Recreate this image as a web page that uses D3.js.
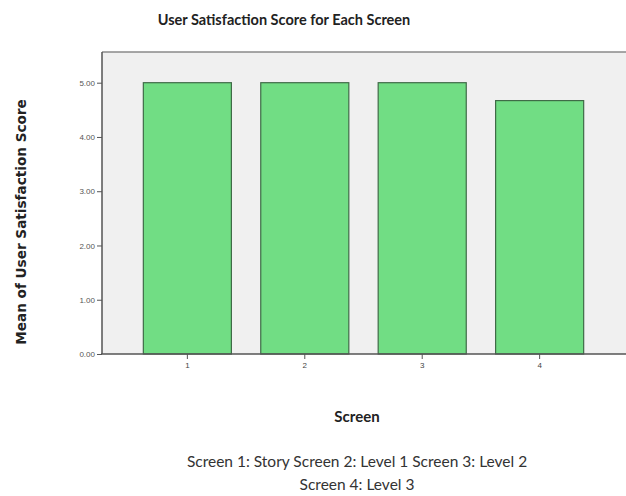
<!DOCTYPE html>
<html>
<head>
<meta charset="utf-8">
<script src="https://cdn.jsdelivr.net/npm/d3@7"></script>
<style>
  body { margin: 0; background: #fff; }
  svg { display: block; }
</style>
</head>
<body>
<div id="chart"></div>
<script>
// Data
const screens = ["1", "2", "3", "4"];
const meanScores = [5.00, 5.00, 5.00, 4.67];
const yTicks = [0, 1, 2, 3, 4, 5];
const captionLines = ["Screen 1: Story Screen 2: Level 1 Screen 3: Level 2", "Screen 4: Level 3"];

const width = 626, height = 496;
const plot = {left: 102, right: 625, top: 52, bottom: 354};

const svg = d3.select("#chart")
              .append("svg")
              .attr("width", width)
              .attr("height", height);

// Scales
const x = d3.scaleBand()
            .domain(screens)
            .range([plot.left, plot.right])
            .paddingInner(0.25)
            .paddingOuter(0.352);
const y = d3.scaleLinear()
            .domain([0, 5])
            .range([plot.bottom, plot.bottom - 271.3]);

// Plot background
svg.append("rect")
   .attr("x", plot.left)
   .attr("y", plot.top)
   .attr("width", width - plot.left)
   .attr("height", plot.bottom - plot.top)
   .attr("fill", "#f0f0f0");

// top frame line
svg.append("line")
   .attr("x1", plot.left).attr("x2", width)
   .attr("y1", plot.top).attr("y2", plot.top)
   .attr("stroke", "#8a8a8a").attr("stroke-width", 1.5);

// Bars
svg.append("g")
   .selectAll("rect")
   .data(screens)
   .enter()
   .append("rect")
   .attr("x", (d) => x(d))
   .attr("y", (d, i) => y(meanScores[i]))
   .attr("width", x.bandwidth())
   .attr("height", (d, i) => y(0) - y(meanScores[i]))
   .attr("fill", "#71dd84")
   .attr("stroke", "#3f6b47")
   .attr("stroke-width", 1.2);

// Y axis
const yAxis = svg.append("g")
   .attr("transform", "translate(" + plot.left + ",0)")
   .call(d3.axisLeft(y).tickValues(yTicks).tickFormat(d3.format(".2f")).tickSize(5).tickPadding(2));
yAxis.select(".domain").remove();
yAxis.append("line")
   .attr("x1", 0).attr("x2", 0)
   .attr("y1", plot.top).attr("y2", plot.bottom)
   .attr("stroke", "#555").attr("stroke-width", 1.5);
yAxis.selectAll(".tick line").attr("stroke", "#555");
yAxis.selectAll("text")
     .attr("font-family", "Liberation Sans, Arial, sans-serif")
     .attr("font-size", "8px")
     .attr("fill", "#555");

// X axis
const xAxis = svg.append("g")
   .attr("transform", "translate(0," + plot.bottom + ")")
   .call(d3.axisBottom(x).tickSize(5).tickPadding(3));
xAxis.select(".domain").remove();
xAxis.append("line")
   .attr("x1", plot.left - 1).attr("x2", width)
   .attr("y1", 0).attr("y2", 0)
   .attr("stroke", "#555").attr("stroke-width", 1.5);
xAxis.selectAll(".tick line").attr("stroke", "#555");
xAxis.selectAll("text")
     .attr("font-family", "Liberation Sans, Arial, sans-serif")
     .attr("font-size", "8px")
     .attr("fill", "#444");

// Title
svg.append("text")
   .attr("x", 284)
   .attr("y", 25)
   .attr("text-anchor", "middle")
   .attr("font-family", "Lato, Open Sans, sans-serif")
   .attr("font-weight", "bold")
   .attr("font-size", "14.5px")
   .attr("fill", "#222")
   .text("User Satisfaction Score for Each Screen");

// Y axis title
svg.append("text")
   .attr("transform", "translate(26,222) rotate(-90)")
   .attr("text-anchor", "middle")
   .attr("font-family", "DejaVu Sans, sans-serif")
   .attr("font-weight", "bold")
   .attr("font-size", "13.6px")
   .attr("fill", "#222")
   .text("Mean of User Satisfaction Score");

// X axis title
svg.append("text")
   .attr("x", 357)
   .attr("y", 422)
   .attr("text-anchor", "middle")
   .attr("font-family", "Lato, Open Sans, sans-serif")
   .attr("font-weight", "bold")
   .attr("font-size", "15px")
   .attr("fill", "#222")
   .text("Screen");

// Caption
svg.append("g")
   .selectAll("text")
   .data(captionLines)
   .enter()
   .append("text")
   .attr("x", 357)
   .attr("y", (d, i) => 467 + i * 23)
   .attr("text-anchor", "middle")
   .attr("font-family", "Lato, Open Sans, sans-serif")
   .attr("font-size", "15.5px")
   .attr("fill", "#333")
   .text((d) => d);
</script>
</body>
</html>
